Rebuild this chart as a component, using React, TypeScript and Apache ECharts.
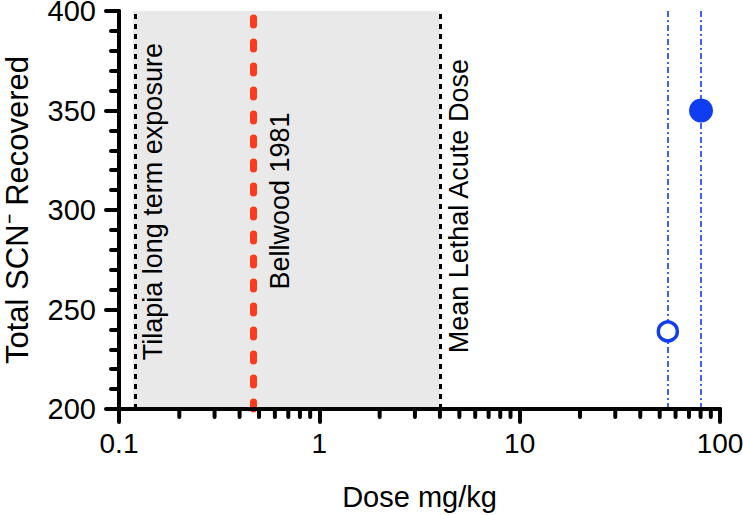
import React, { useEffect, useRef } from "react";
import * as echarts from "echarts";

const FONT = "'Liberation Sans', Arial, Helvetica, sans-serif";

// Data
const openPoint = [[54.9, 239]];
const filledPoint = [[80.4, 350]];
const tilapiaDose = 0.1175;
const bellwoodDose = 0.475;
const lethalDose = 4.0;
const blueLineDoses = [54.9, 80.4];
const annotationTexts = ["Tilapia long term exposure", "Bellwood 1981", "Mean Lethal Acute Dose"];
const annotationAnchors = [
  [tilapiaDose, 224.5],
  [bellwoodDose, 260],
  [lethalDose, 228],
];
const xMinorTicks = [
  0.2, 0.3, 0.4, 0.5, 0.6, 0.7, 0.8, 0.9,
  2, 3, 4, 5, 6, 7, 8, 9,
  20, 30, 40, 50, 60, 70, 80, 90,
];
const yMin = 200;
const yMax = 400;

const annotationOffsets = [6, 12, 6];

export default function App() {
  const ref = useRef<HTMLDivElement>(null);
  useEffect(() => {
    if (!ref.current) return;
    const chart = echarts.init(ref.current, undefined, { renderer: "svg" });
    const blue = "#0f3ef0";
    const blackDash = { color: "#000", width: 3, type: [5, 5] as any };
    chart.setOption({
      animation: false,
      backgroundColor: "#fff",
      grid: { left: 119, right: 23, top: 11, bottom: 106, outerBoundsMode: "none", containLabel: false },
      xAxis: {
        type: "log",
        logBase: 10,
        min: 0.1,
        max: 100,
        z: 10,
        name: "Dose mg/kg",
        nameLocation: "middle",
        nameGap: 73,
        nameTextStyle: { fontFamily: FONT, fontSize: 29, color: "#000" },
        axisLine: { show: true, lineStyle: { color: "#000", width: 4, cap: "round" } },
        axisTick: { show: true, length: 13, lineStyle: { color: "#000", width: 4, cap: "round" } },
        axisLabel: {
          fontFamily: FONT,
          fontSize: 28,
          color: "#000",
          margin: 20,
          formatter: (v: number) => (v < 1 ? String(Math.round(v * 10) / 10) : String(Math.round(v))),
        },
        splitLine: { show: false },
        minorTick: { show: false },
      },
      yAxis: {
        type: "value",
        min: yMin,
        max: yMax,
        interval: 50,
        z: 10,
        name: "Total SCN\u207B Recovered",
        nameLocation: "middle",
        nameGap: 86,
        nameTextStyle: { fontFamily: FONT, fontSize: 31, color: "#000" },
        axisLine: { show: true, lineStyle: { color: "#000", width: 4, cap: "round" } },
        axisTick: { show: true, length: 13, lineStyle: { color: "#000", width: 4, cap: "round" } },
        minorTick: { show: true, splitNumber: 5, length: 8, lineStyle: { color: "#000", width: 4, cap: "round" } },
        axisLabel: { fontFamily: FONT, fontSize: 29, color: "#000", margin: 23 },
        splitLine: { show: false },
        minorSplitLine: { show: false },
      },
      series: [
        {
          type: "scatter",
          z: 1,
          data: [],
          markArea: {
            silent: true,
            itemStyle: { color: "#e9e9e9" },
            data: [[{ xAxis: tilapiaDose }, { xAxis: lethalDose }]],
          },
          markLine: {
            silent: true,
            symbol: "none",
            label: { show: false },
            data: [
              { xAxis: tilapiaDose, lineStyle: blackDash },
              { xAxis: lethalDose, lineStyle: blackDash },
              { xAxis: bellwoodDose, lineStyle: { color: "#ff3a1a", width: 7, type: [7, 17], cap: "round" } },
              ...blueLineDoses.map((d) => ({
                xAxis: d,
                lineStyle: { color: blue, width: 1.6, type: [6, 3, 2, 3] },
              })),
            ],
          },
        },
        {
          type: "custom",
          z: 3,
          clip: false,
          silent: true,
          data: annotationAnchors,
          renderItem: (params: any, api: any) => {
            const p = api.coord([api.value(0), api.value(1)]);
            return {
              type: "text",
              x: p[0] + annotationOffsets[params.dataIndex],
              y: p[1],
              rotation: Math.PI / 2,
              style: {
                text: annotationTexts[params.dataIndex],
                fontSize: 27,
                fontFamily: FONT,
                fill: "#000",
                align: "left",
                verticalAlign: "top",
              },
            };
          },
        },
        {
          type: "custom",
          z: 11,
          clip: false,
          silent: true,
          data: xMinorTicks.map((v) => [v]),
          renderItem: (params: any, api: any) => {
            const p = api.coord([api.value(0), yMin]);
            return {
              type: "line",
              shape: { x1: p[0], y1: p[1], x2: p[0], y2: p[1] + 8 },
              style: { stroke: "#000", lineWidth: 4, lineCap: "round" },
            };
          },
        },
        {
          type: "scatter",
          z: 5,
          symbol: "circle",
          symbolSize: 19,
          itemStyle: { color: "#fff", borderColor: blue, borderWidth: 3.5, opacity: 1 },
          data: openPoint,
        },
        {
          type: "scatter",
          z: 5,
          symbol: "circle",
          symbolSize: 24,
          itemStyle: { color: blue, opacity: 1 },
          data: filledPoint,
        },
      ],
    });
    return () => chart.dispose();
  }, []);
  return <div ref={ref} style={{ width: 743, height: 515, position: "absolute", left: 0, top: 0 }} />;
}
